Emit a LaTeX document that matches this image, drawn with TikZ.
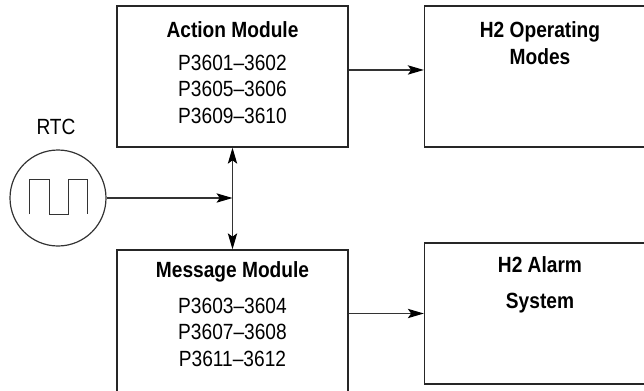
\documentclass[tikz,border=0pt]{standalone}
\usepackage{fontspec}
\setmainfont[FakeStretch=0.87]{Liberation Sans}
\usepackage{tikz}
\usetikzlibrary{arrows.meta}
\usetikzlibrary{positioning, calc}

\tikzset{
  modbox/.style={draw=black!85,line width=1pt,rectangle,minimum width=173.25pt,inner sep=0pt},
  modtitle/.style={font=\fontsize{16.5}{20.25}\selectfont\bfseries,align=center,inner sep=0pt},
  modlist/.style={font=\fontsize{16.5}{19.9}\selectfont,align=center,inner sep=0pt},
  sig/.style={draw=black!80,line width=0.9pt},
}

\begin{document}
\begin{tikzpicture}[x=0.75pt,y=-0.75pt, >={Stealth[length=12pt,width=7pt,inset=2.5pt,color=black]}]
  \useasboundingbox (0,0) rectangle (644,390);
  \clip (0,0) rectangle (644,390);

  % module boxes
  \node[modbox,minimum height=105.75pt] (act)   at (232.5,76.5)  {};
  \node[modbox,minimum height=105.75pt] (ops)   at (540,76.5)    {};
  \node[modbox,minimum height=108pt]    (msg)   at (232.5,322)   {};
  \node[modbox,minimum height=105.75pt] (alarm) at (540,313.5)   {};

  % texts
  \node[modtitle] (actname) at (232.5,30) {Action Module};
  \node[modlist]  (actpar)  at (232.5,89) {P3601--3602\\P3605--3606\\P3609--3610};
  \node[modtitle] (opsname) at (540,43.5) {H2 Operating\\Modes};
  \node[modtitle] (msgname) at (232.5,272) {Message Module};
  \node[modlist]  (msgpar)  at (232.5,332) {P3603--3604\\P3607--3608\\P3611--3612};
  \node[modtitle,font=\fontsize{16.5}{27}\selectfont\bfseries] (alarmname) at (540,285) {H2 Alarm\\System};

  % real time clock
  \node[sig,circle,minimum size=72pt,inner sep=0pt] (rtc) at (58,198) {};
  \node[modlist] (rtcname) at (56,127) {RTC};
  \draw[sig,line width=0.7pt] (29,214) -- (29,179) -- (49,179) -- (49,214)
    -- (68,214) -- (68,179) -- (87,179) -- (87,214);

  % connections
  \coordinate (jn) at (act.south |- rtc.east);
  \draw[sig,->] (rtc.east) -- (jn);
  \draw[sig,<->] (act.south) -- (msg.north);
  \draw[sig,->] ([yshift=4.9pt]act.east) -- ([yshift=4.9pt]ops.west);
  \draw[sig,->] (msg.east |- alarm.west) -- (alarm.west);
\end{tikzpicture}
\end{document}
